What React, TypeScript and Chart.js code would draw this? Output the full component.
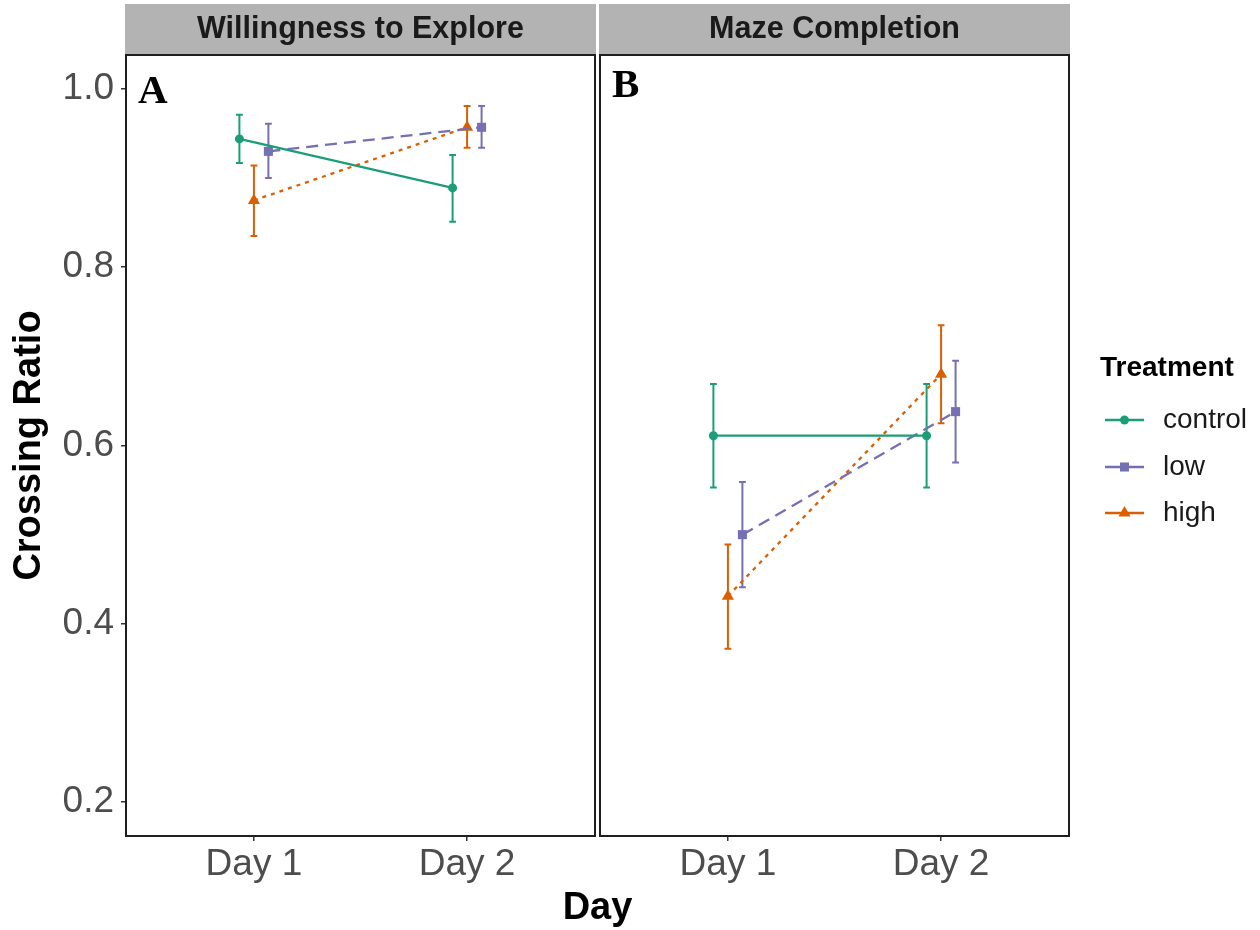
import React, { useEffect, useRef } from 'react';
import { Chart, registerables } from 'chart.js';

Chart.register(...registerables);

const SANS = '"Liberation Sans", Arial, Helvetica, sans-serif';
const SERIF = '"Liberation Serif", "Times New Roman", serif';

// Categories and groups
const days = ['Day 1', 'Day 2'];
const dayPositions = [1, 2];
const treatments = ['control', 'low', 'high'];
const treatmentColors = ['#1B9E77', '#7570B3', '#D95F02'];
const treatmentDashes = [[], [12, 7], [4, 5]];
const treatmentShapes = ['circle', 'rect', 'triangle'];
const treatmentRadii = [4.5, 6.4, 7];
const dodge = [-0.068, 0.068, 0];

// Axis ranges and ticks
const yTickValues = [0.2, 0.4, 0.6, 0.8, 1.0];
const yMin = 0.1619;
const yMax = 1.0381;
const xMin = 0.4;
const xMax = 2.6;

// Willingness to Explore: rows follow `treatments`, columns follow `days`
const exploreMean = [
  [0.944, 0.889],
  [0.93, 0.957],
  [0.875, 0.957],
];
const exploreLower = [
  [0.917, 0.851],
  [0.9, 0.934],
  [0.835, 0.934],
];
const exploreUpper = [
  [0.971, 0.926],
  [0.961, 0.981],
  [0.914, 0.981],
];

// Maze Completion
const mazeMean = [
  [0.611, 0.611],
  [0.5, 0.638],
  [0.431, 0.68],
];
const mazeLower = [
  [0.553, 0.553],
  [0.441, 0.581],
  [0.372, 0.625],
];
const mazeUpper = [
  [0.669, 0.669],
  [0.559, 0.695],
  [0.489, 0.735],
];

type Panel = {
  title: string;
  letter: string;
  letterBaseline: number;
  mean: number[][];
  lower: number[][];
  upper: number[][];
  padLeft: number;
  padRight: number;
  showY: boolean;
  showDayTitle: boolean;
  showLegend: boolean;
};

const panels: Panel[] = [
  {
    title: 'Willingness to Explore',
    letter: 'A',
    letterBaseline: 103,
    mean: exploreMean,
    lower: exploreLower,
    upper: exploreUpper,
    padLeft: 0,
    padRight: 665,
    showY: true,
    showDayTitle: true,
    showLegend: false,
  },
  {
    title: 'Maze Completion',
    letter: 'B',
    letterBaseline: 97,
    mean: mazeMean,
    lower: mazeLower,
    upper: mazeUpper,
    padLeft: 600,
    padRight: 191,
    showY: false,
    showDayTitle: false,
    showLegend: true,
  },
];

function drawMarker(ctx: CanvasRenderingContext2D, shape: string, x: number, y: number, r: number, color: string) {
  ctx.save();
  ctx.fillStyle = color;
  ctx.beginPath();
  if (shape === 'circle') {
    ctx.arc(x, y, r, 0, Math.PI * 2);
  } else if (shape === 'rect') {
    const h = r * Math.SQRT1_2;
    ctx.rect(x - h, y - h, 2 * h, 2 * h);
  } else {
    for (let k = 0; k < 3; k++) {
      const a = -Math.PI / 2 + (k * 2 * Math.PI) / 3;
      const px = x + Math.cos(a) * r;
      const py = y + Math.sin(a) * r;
      if (k === 0) ctx.moveTo(px, py);
      else ctx.lineTo(px, py);
    }
    ctx.closePath();
  }
  ctx.fill();
  ctx.restore();
}

function makeFacetPlugin(panel: Panel) {
  return {
    id: 'facetDecor',
    beforeDatasetsDraw(chart: any) {
      const { ctx, scales } = chart;
      const xs = scales.x;
      const ys = scales.y;
      ctx.save();
      treatments.forEach((_, i) => {
        ctx.strokeStyle = treatmentColors[i];
        ctx.lineWidth = 2;
        dayPositions.forEach((pos, d) => {
          const x = xs.getPixelForValue(pos + dodge[i]);
          const yLo = ys.getPixelForValue(panel.lower[i][d]);
          const yHi = ys.getPixelForValue(panel.upper[i][d]);
          ctx.beginPath();
          ctx.moveTo(x, yLo);
          ctx.lineTo(x, yHi);
          ctx.moveTo(x - 3.4, yLo);
          ctx.lineTo(x + 3.4, yLo);
          ctx.moveTo(x - 3.4, yHi);
          ctx.lineTo(x + 3.4, yHi);
          ctx.stroke();
        });
      });
      ctx.restore();
    },
    afterDraw(chart: any) {
      const { ctx, chartArea } = chart;
      const { left, right, top, bottom } = chartArea;
      ctx.save();

      // facet strip
      ctx.fillStyle = '#b3b3b3';
      ctx.fillRect(left - 1, 4, right - left + 2, top - 1 - 4);
      ctx.fillStyle = '#1a1a1a';
      ctx.font = `bold 30.5px ${SANS}`;
      ctx.textAlign = 'center';
      ctx.textBaseline = 'middle';
      ctx.fillText(panel.title, (left + right) / 2, 29.5);

      // panel border
      ctx.strokeStyle = '#1f1f1f';
      ctx.lineWidth = 2;
      ctx.strokeRect(left, top, right - left, bottom - top);

      // panel letter
      ctx.fillStyle = '#000';
      ctx.font = `bold 41px ${SERIF}`;
      ctx.textAlign = 'left';
      ctx.textBaseline = 'alphabetic';
      ctx.fillText(panel.letter, left + 12, panel.letterBaseline);

      // shared x-axis title
      if (panel.showDayTitle) {
        ctx.fillStyle = '#000';
        ctx.font = `bold 38px ${SANS}`;
        ctx.textAlign = 'center';
        ctx.textBaseline = 'middle';
        ctx.fillText('Day', 597.5, 908.5);
      }

      // legend
      if (panel.showLegend) {
        ctx.fillStyle = '#000';
        ctx.font = `bold 28px ${SANS}`;
        ctx.textAlign = 'left';
        ctx.textBaseline = 'middle';
        ctx.fillText('Treatment', 1100, 368);
        const rows = [420, 467, 513];
        treatments.forEach((name, i) => {
          const y = rows[i];
          ctx.strokeStyle = treatmentColors[i];
          ctx.lineWidth = 2.3;
          ctx.setLineDash([]);
          ctx.beginPath();
          ctx.moveTo(1105, y);
          ctx.lineTo(1144, y);
          ctx.stroke();
          drawMarker(ctx, treatmentShapes[i], 1124.5, y, treatmentRadii[i], treatmentColors[i]);
          ctx.fillStyle = '#1a1a1a';
          ctx.font = `28px ${SANS}`;
          ctx.textAlign = 'left';
          ctx.textBaseline = 'middle';
          ctx.fillText(name, 1163, y);
        });
      }
      ctx.restore();
    },
  };
}

function FacetCanvas({ panel }: { panel: Panel }) {
  const ref = useRef<HTMLCanvasElement | null>(null);

  useEffect(() => {
    if (!ref.current) return;
    const datasets = treatments.map((name, i) => ({
      label: name,
      data: dayPositions.map((pos, d) => ({ x: pos + dodge[i], y: panel.mean[i][d] })),
      showLine: true,
      borderColor: treatmentColors[i],
      backgroundColor: treatmentColors[i],
      borderWidth: 2.3,
      borderDash: treatmentDashes[i],
      pointStyle: treatmentShapes[i],
      pointRadius: treatmentRadii[i],
      pointBorderWidth: 0,
      pointBackgroundColor: treatmentColors[i],
      order: i,
    }));

    const chart = new Chart(ref.current, {
      type: 'scatter',
      data: { datasets },
      options: {
        animation: false,
        responsive: false,
        maintainAspectRatio: false,
        devicePixelRatio: 1,
        layout: {
          padding: { left: panel.padLeft, right: panel.padRight, top: 55, bottom: 0 },
        },
        plugins: {
          legend: { display: false },
          tooltip: { enabled: false },
        },
        scales: {
          x: {
            type: 'linear',
            min: xMin,
            max: xMax,
            afterBuildTicks: (s: any) => {
              s.ticks = dayPositions.map((v) => ({ value: v }));
            },
            afterFit: (s: any) => {
              s.height = 94;
            },
            grid: {
              drawOnChartArea: false,
              drawTicks: true,
              tickLength: 5,
              color: '#333333',
              lineWidth: 1.5,
            },
            border: { display: false },
            ticks: {
              callback: (v: any) => days[dayPositions.indexOf(Number(v))],
              font: { family: SANS, size: 37 },
              color: '#4d4d4d',
              padding: 2,
              maxRotation: 0,
              autoSkip: false,
            },
          },
          y: {
            type: 'linear',
            display: panel.showY,
            min: yMin,
            max: yMax,
            afterBuildTicks: (s: any) => {
              s.ticks = yTickValues.map((v) => ({ value: v }));
            },
            afterFit: (s: any) => {
              s.width = panel.showY ? 126 : 0;
            },
            grid: {
              drawOnChartArea: false,
              drawTicks: true,
              tickLength: 5,
              color: '#333333',
              lineWidth: 1.5,
            },
            border: { display: false },
            ticks: {
              callback: (v: any) => Number(v).toFixed(1),
              font: { family: SANS, size: 37 },
              color: '#4d4d4d',
              padding: 7,
              autoSkip: false,
            },
            title: {
              display: true,
              text: 'Crossing Ratio',
              color: '#000',
              font: { family: SANS, size: 38, weight: 'bold' },
              padding: { top: 7, bottom: 0 },
            },
          },
        },
      },
      plugins: [makeFacetPlugin(panel)],
    } as any);

    return () => chart.destroy();
  }, [panel]);

  return (
    <canvas
      ref={ref}
      width={1260}
      height={930}
      style={{ position: 'absolute', left: 0, top: 0, width: 1260, height: 930 }}
    />
  );
}

export default function App() {
  return (
    <div
      style={{
        position: 'absolute',
        left: 0,
        top: 0,
        width: 1260,
        height: 930,
        background: '#ffffff',
        overflow: 'hidden',
      }}
    >
      {panels.map((p) => (
        <FacetCanvas key={p.letter} panel={p} />
      ))}
    </div>
  );
}
